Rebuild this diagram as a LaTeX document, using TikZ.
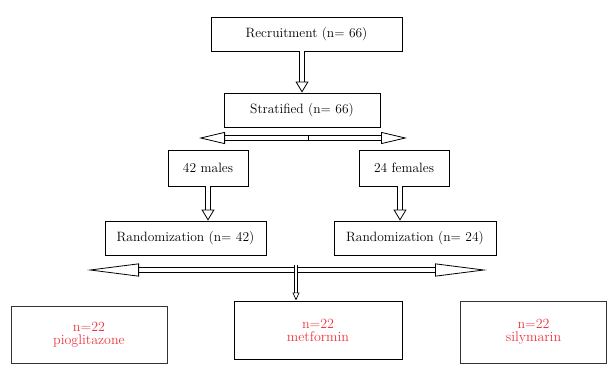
\documentclass[tikz,border=0pt]{standalone}
\usetikzlibrary{arrows.meta}

\definecolor{grpred}{RGB}{235,55,65}
\newcommand{\boxfont}{\fontsize{13.5}{15}\selectfont}
\newcommand{\grpfont}{\fontsize{14}{13}\selectfont}
\newcommand{\bx}{\node[draw, line width=0.9pt, inner sep=0pt, font=\boxfont]}
\newcommand{\gx}{\node[draw, draw=black!80, line width=1pt, inner sep=0pt, align=center, text=grpred, font=\grpfont]}

\begin{document}
\begin{tikzpicture}[x=1pt, y=-1pt,
    hollow/.style={double, double distance=4pt, line width=0.8pt,
        -{Triangle[open, length=11pt, width=13pt]}},
    hollowside/.style={hollow, -{Triangle[open, length=26pt, width=12pt]}},
    hollowwide/.style={hollow, -{Triangle[open, length=52pt, width=13pt]}},
    hollowthin/.style={double, double distance=2pt, line width=0.7pt,
        -{Triangle[open, length=8pt, width=7pt]}}]
    \useasboundingbox (0,0) rectangle (607,369);

    \bx[minimum width=191pt, minimum height=34pt] (rec) at (306.5,34) {Recruitment (n= 66)};
    \bx[minimum width=156pt, minimum height=34pt] (strat) at (302,110) {Stratified (n= 66)};
    \coordinate (split) at (308,138);
    \coordinate (splitL) at (199,138);
    \coordinate (splitR) at (407,138);
    \bx[minimum width=80pt, minimum height=36pt] (male) at (208,168) {42 males};
    \bx[minimum width=90pt, minimum height=36pt] (fem) at (404,168) {24 females};
    \bx[minimum width=161pt, minimum height=34pt] (rand42) at (185.5,238) {Randomization (n= 42)};
    \bx[minimum width=162pt, minimum height=34pt] (rand24) at (415,238) {Randomization (n= 24)};
    \coordinate (alloc) at (296,270);
    \coordinate (allocL) at (87,270);
    \coordinate (allocR) at (487,270);
    \coordinate (allocT) at (296,265);
    \gx[minimum width=156pt, minimum height=57pt] (pio) at (89,334.5) {n=22\\pioglitazone};
    \gx[draw=black, minimum width=168pt, minimum height=58pt] (met) at (318,330) {n=22\\metformin};
    \gx[minimum width=146pt, minimum height=62pt] (sily) at (533.5,332) {n=22\\silymarin};

    % arrows
    \draw[hollow] (strat.north |- rec.south) -- (strat.north);
    \draw[hollowside] (split) -- (splitL);
    \draw[hollowside] (split) -- (splitR);
    \draw[line width=0.8pt] (split) ++(0,-2) -- ++(0,4);
    \draw[hollow] (male.south) -- (male.south |- rand42.north);
    \draw[hollow] ([xshift=-4pt]fem.south) -- ([xshift=-4pt]fem.south |- rand24.north);
    \draw[hollowwide] (alloc) -- (allocL);
    \draw[hollowwide] (alloc) -- (allocR);
    \draw[hollowthin] (allocT) -- (allocT |- met.north);
\end{tikzpicture}
\end{document}
